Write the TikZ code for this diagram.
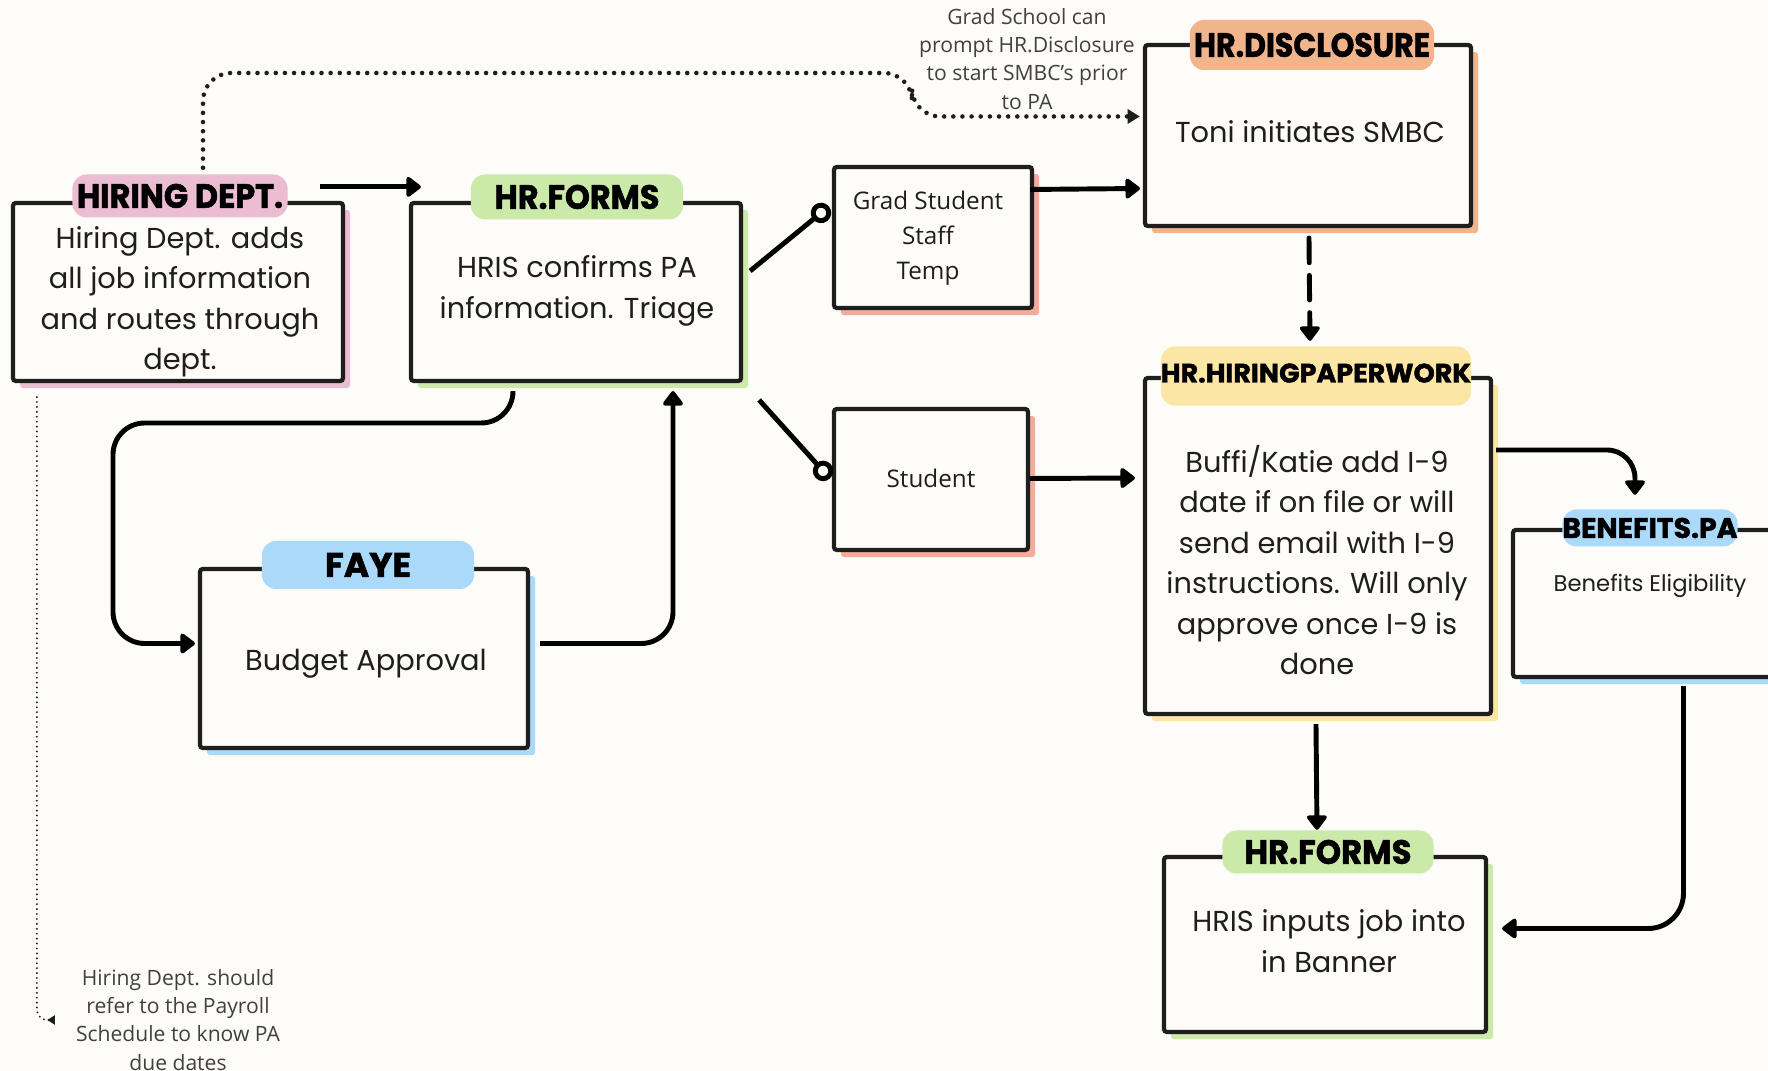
\documentclass[tikz,border=0pt]{standalone}
\usepackage{fontspec}
\setmainfont{Poppins}
\newfontfamily\hdrfont{Poppins}[BoldFeatures={FakeBold=1.6}]
\newfontfamily\smallsans{Open Sans}
\usetikzlibrary{arrows.meta,shadows,fit,calc}
\definecolor{bg}{RGB}{253,252,248}
\definecolor{pinkc}{RGB}{235,188,210}
\definecolor{greenc}{RGB}{203,233,168}
\definecolor{bluec}{RGB}{170,217,250}
\definecolor{orangec}{RGB}{242,180,139}
\definecolor{yellowc}{RGB}{251,230,165}
\definecolor{salmonc}{RGB}{245,170,155}
\definecolor{inkc}{RGB}{30,30,30}
\newcommand\lbl[3]{\resizebox{#1pt}{#2pt}{\hdrfont\bfseries #3}}
\tikzset{
  box/.style={draw=inkc, line width=1.2pt, fill=bg, inner sep=0pt, rounded corners=0.8pt,
    drop shadow={shadow xshift=2pt, shadow yshift=-2pt, fill=#1, opacity=1}},
  pill/.style={fill=#1, rounded corners=4pt, inner sep=0pt, text=black},
  body/.style={font=\fontsize{8.2}{11.5}\selectfont, align=center, inner sep=0pt, text=inkc},
  bodysmall/.style={font=\fontsize{6.45}{9}\selectfont, align=center, inner sep=0pt, text=inkc},
  sans/.style={font=\smallsans\fontsize{6.9}{10}\selectfont, align=center, inner sep=0pt, text=inkc},
  note/.style={font=\smallsans\fontsize{6}{8}\selectfont, align=center, inner sep=0pt, text=black!75},
  conn/.style={draw=black, line width=1.4pt, line join=round, -{Triangle[length=4.5pt,width=6.5pt,round]}},
  circ/.style={draw=black, line width=1.4pt, -{Circle[length=5.8pt,width=5.8pt,fill=bg]}},
}
\begin{document}
\begin{tikzpicture}[x=0.01cm,y=-0.01cm]
\useasboundingbox (0,0) rectangle (1768,1071);
\fill[bg] (0,0) rectangle (1768,1071);
\clip (0,0) rectangle (1768,1071);

% boxes
\node[box=pinkc, fit={(13,203) (343,381)}] (hd) {};
\node[box=greenc, fit={(411,203) (741,381)}] (hrf) {};
\node[box=bluec, fit={(200,569) (528,748)}] (fy) {};
\node[box=salmonc, fit={(834,167) (1032,308)}] (gs) {};
\node[box=salmonc, fit={(834,409) (1028,550)}] (st) {};
\node[box=orangec, fit={(1145,45) (1471,226)}] (dis) {};
\node[box=yellowc, fit={(1145,378) (1491,714)}] (hp) {};
\node[box=bluec, fit={(1513,530) (1800,677)}] (ben) {};
\node[box=greenc, fit={(1164,857) (1486,1032)}] (hrf2) {};

% label pills
\node[pill=pinkc, minimum width=2.15cm, minimum height=0.43cm] (hdl) at (180,196) {\lbl{58.6}{6.8}{HIRING DEPT.}};
\node[pill=greenc, minimum width=2.12cm, minimum height=0.45cm] (hrfl) at (577,197) {\lbl{46.9}{6.8}{HR.FORMS}};
\node[pill=orangec, minimum width=2.44cm, minimum height=0.5cm] (disl) at (1312,45) {\lbl{67.1}{6.8}{HR.DISCLOSURE}};
\node[pill=bluec, minimum width=2.12cm, minimum height=0.48cm] (fyl) at (368,565) {\lbl{24.5}{6.8}{FAYE}};
\node[pill=yellowc, minimum width=3.1cm, minimum height=0.59cm] (hpl) at (1316,376) {\raisebox{1.7pt}{\lbl{88.2}{5.4}{HR.HIRINGPAPERWORK}}};
\node[pill=bluec, minimum width=1.75cm, minimum height=0.37cm] (benl) at (1650,528) {\lbl{49.8}{5.7}{BENEFITS.PA}};
\node[pill=greenc, minimum width=2.11cm, minimum height=0.43cm] (hrf2l) at (1328,852) {\lbl{47.5}{6.8}{HR.FORMS}};

% body texts
\node[body] (hdt) at (180,302) {Hiring Dept. adds\\all job information\\and routes through\\dept.};
\node[body] (hrft) at (577,291) {HRIS confirms PA\\information. Triage};
\node[body] (dist) at (1310,132) {Toni initiates SMBC};
\node[body] (fyt) at (366,664) {Budget Approval};
\node[body] (hpt) at (1317,560) {Buffi/Katie add I-9\\date if on file or will\\send email with I-9\\instructions. Will only\\approve once I-9 is\\done};
\node[bodysmall] (bent) at (1650,586) {Benefits Eligibility};
\node[body] (hrf2t) at (1329,941) {HRIS inputs job into\\in Banner};
\node[sans] (gst) at (928,238) {Grad Student\\Staff\\Temp};
\node[sans] (stt) at (931,478) {Student};

% notes
\node[note] (ann1) at (1027,59) {Grad School can\\prompt HR.Disclosure\\to start SMBC’s prior\\to PA};
\node[note] (ann2) at (178,1020) {Hiring Dept. should\\refer to the Payroll\\Schedule to know PA\\due dates};

% connectors
\draw[conn] ([shift={(-25,-14)}]hd.north east) -- ([shift={(12,-14)}]hrf.north west);
\draw[conn, rounded corners=9pt] ([shift={(-63,8)}]hrf.south) |- (113,423) |- ([shift={(-3,-15)}]fy.west);
\draw[conn, rounded corners=9pt] ([shift={(10,-15)}]fy.east) -| ([shift={(97,8)}]hrf.south);
\draw[circ] ([shift={(7,-21)}]hrf.east) -- ([shift={(-3,-31)}]gs.west);
\draw[circ] ([shift={(16,108)}]hrf.east) -- ([shift={(-2,-1)}]st.west);
\draw[conn] ([shift={(-4,-48)}]gs.east) -- ([shift={(-3,53)}]dis.west);
\draw[conn] ([shift={(0,-1)}]st.east) -- ([shift={(-8,-68)}]hp.west);
\draw[conn, line cap=round, dash pattern=on 7pt off 3.6pt] ([shift={(1,10)}]dis.south) -- ([shift={(-6,-5)}]hpl.north);
\draw[conn, rounded corners=8pt] ([shift={(3,-96)}]hp.east) -| ([shift={(-15,-14)}]benl.north);
\draw[conn] ([shift={(-2,8)}]hp.south) -- ([shift={(-11,0)}]hrf2l.north);
\draw[conn, rounded corners=10pt] ([shift={(27,7)}]ben.south) |- ([shift={(14,-16)}]hrf2.east);
\draw[draw=inkc, line width=1.3pt, line cap=round, dash pattern=on 0pt off 2.6pt, rounded corners=8pt,
  -{Triangle[length=3.5pt,width=4pt]}]
  ([shift={(23,-6)}]hdl.north) |- (912,73) |- ([shift={(-3,-19)}]dis.west);
\draw[draw=inkc, line width=0.6pt, line cap=round, dash pattern=on 0pt off 1.4pt, rounded corners=3pt,
  -{Triangle[length=2.2pt,width=2.6pt]}]
  ([shift={(26,14)}]hd.south west) |- ([xshift=-8]ann2.west);
\end{tikzpicture}
\end{document}
